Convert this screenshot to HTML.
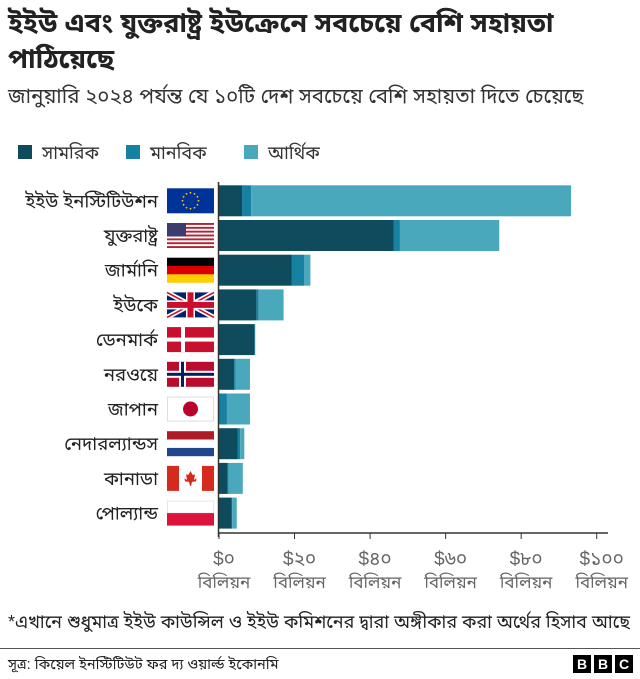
<!DOCTYPE html>
<html><head><meta charset="utf-8">
<style>
body{margin:0;background:#fff;width:640px;height:679px;overflow:hidden;font-family:"Liberation Sans","Noto Sans Bengali","Lohit Bengali",sans-serif;color:#222}
.t{position:absolute;left:8px;top:5px;font-size:27px;font-weight:bold;line-height:36px;width:625px}
.s{position:absolute;left:8px;top:85px;font-size:20.5px;color:#333}
</style></head><body>
<div class="t">ইইউ এবং যুক্তরাষ্ট্র ইউক্রেনে সবচেয়ে বেশি সহায়তা পাঠিয়েছে</div>
<div class="s">জানুয়ারি ২০২৪ পর্যন্ত যে ১০টি দেশ সবচেয়ে বেশি সহায়তা দিতে চেয়েছে</div>
<svg id="c" width="640" height="679" style="position:absolute;left:0;top:0"></svg>
<script>
const categories=["ইইউ ইনস্টিটিউশন","যুক্তরাষ্ট্র","জার্মানি","ইউকে","ডেনমার্ক","নরওয়ে","জাপান","নেদারল্যান্ডস","কানাডা","পোল্যান্ড"];
const flags=["eu","us","de","uk","dk","no","jp","nl","ca","pl"];
const military=[6.1,46.3,19.3,9.9,9.4,4.0,0.1,5.0,2.3,3.3];
const humanitarian=[2.4,1.6,3.3,0.6,0.1,0.4,2.0,0.6,0.2,0.2];
const financial=[84.7,26.3,1.6,6.6,0.1,3.8,6.1,1.1,3.8,1.2];
const ticks=[0,20,40,60,80,100];
const tickLabels=["$০","$২০","$৪০","$৬০","$৮০","$১০০"];
const seriesNames=["সামরিক","মানবিক","আর্থিক"];
const colors=["#0e4b5d","#1781a2","#4aa8bd"];
const svg=document.getElementById('c');const NS="http://www.w3.org/2000/svg";
function el(t,a,p){const e=document.createElementNS(NS,t);for(const k in a)e.setAttribute(k,a[k]);(p||svg).appendChild(e);return e;}
const x=v=>219+v*3.777;
const y=i=>185.3+i*34.7;
const BH=31;
const lx=[18,126,244];
seriesNames.forEach((n,i)=>{
 const r=el('rect',{x:lx[i],y:145,width:14,height:14,fill:colors[i]});
 
 
 const t=el('text',{x:lx[i]+24,y:159,'font-size':18,fill:'#333'});t.textContent=n;
 
 
});
categories.forEach((c,i)=>{
 let acc=0;
 [military,humanitarian,financial].forEach((s,j)=>{
  const r=el('rect',{x:x(acc),y:y(i),width:Math.max(0,x(acc+s[i])-x(acc)),height:BH,fill:colors[j]});
  
  
  acc+=s[i];
 });
 const t=el('text',{x:158,y:y(i)+22,'font-size':18.5,'text-anchor':'end',fill:'#222'});t.textContent=c;
 
 
 const g=el('g',{transform:`translate(167,${y(i)+3})`});
 
 
 drawFlag(g,flags[i]);
});
function drawFlag(g,f){
 const W=47,H=25;
 const R=(x1,y1,w,h,c)=>el('rect',{x:x1,y:y1,width:w,height:h,fill:c},g);
 if(f=='eu'){R(0,0,W,H,'#003399');for(let k=0;k<12;k++){const a=k*Math.PI/6;el('circle',{cx:23.5+8*Math.cos(a),cy:12.5+8*Math.sin(a),r:0.9,fill:'#fc0'},g);}}
 if(f=='us'){R(0,0,W,H,'#fff');for(let k=0;k<7;k++)R(0,k*3.85,W,1.9,'#b22234');R(0,0,19,13.5,'#3c3b6e');}
 if(f=='de'){R(0,0,W,8.3,'#000');R(0,8.3,W,8.4,'#d00');R(0,16.7,W,8.3,'#ffce00');}
 if(f=='uk'){R(0,0,W,H,'#012169');el('path',{d:`M0 0L${W} ${H}M${W} 0L0 ${H}`,stroke:'#fff','stroke-width':5},g);el('path',{d:`M0 0L${W} ${H}M${W} 0L0 ${H}`,stroke:'#c8102e','stroke-width':1.6},g);R(19,0,9,H,'#fff');R(0,8,W,9,'#fff');R(20.5,0,6,H,'#c8102e');R(0,9.5,W,6,'#c8102e');}
 if(f=='dk'){R(0,0,W,H,'#c8102e');R(14,0,4,H,'#fff');R(0,10.5,W,4,'#fff');}
 if(f=='no'){R(0,0,W,H,'#ba0c2f');R(12,0,7,H,'#fff');R(0,9,W,7,'#fff');R(14,0,3,H,'#00205b');R(0,11,W,3,'#00205b');}
 if(f=='jp'){R(0,0,W,H,'#fff');el('rect',{x:0.5,y:0.5,width:W-1,height:H-1,fill:'none',stroke:'#ddd'},g);el('circle',{cx:23.5,cy:12.5,r:7.5,fill:'#bc002d'},g);}
 if(f=='nl'){R(0,0,W,8.3,'#ae1c28');R(0,8.3,W,8.4,'#fff');R(0,16.7,W,8.3,'#21468b');}
 if(f=='ca'){R(0,0,W,H,'#fff');R(0,0,12,H,'#d52b1e');R(35,0,12,H,'#d52b1e');el('path',{d:'M23.5 5L25.5 9L28 8.5L27 14L29.5 12.5L29 15.5L25 16L24 20H23L22 16L18 15.5L17.5 12.5L20 14L19 8.5L21.5 9Z',fill:'#d52b1e'},g);}
 if(f=='pl'){R(0,0,W,12.5,'#fff');el('rect',{x:0.5,y:0.5,width:W-1,height:12,fill:'none',stroke:'#e5e5e5'},g);R(0,12.5,W,12.5,'#dc143c');}
}
const ax=el('line',{x1:218.5,y1:182,x2:218.5,y2:537,stroke:'#333','stroke-width':1.5});

const bx=el('line',{x1:218,y1:533,x2:608,y2:533,stroke:'#333','stroke-width':1.5});

ticks.forEach((v,i)=>{
 el('line',{x1:x(v),y1:533,x2:x(v),y2:539,stroke:'#333','stroke-width':1});
 const t=el('text',{x:x(v)+5,y:565,'font-size':19,'text-anchor':'middle',fill:'#666'});t.textContent=tickLabels[i];
 
 
 const u=el('text',{x:x(v)+5,y:588,'font-size':17,'text-anchor':'middle',fill:'#666'});u.textContent='বিলিয়ন';
 
 
});
const fn=el('text',{x:8,y:628,'font-size':18,fill:'#222',textLength:622,lengthAdjust:'spacingAndGlyphs'});fn.textContent='*এখানে শুধুমাত্র ইইউ কাউন্সিল ও ইইউ কমিশনের দ্বারা অঙ্গীকার করা অর্থের হিসাব আছে';

const fl=el('line',{x1:0,y1:648.5,x2:640,y2:648.5,stroke:'#555','stroke-width':1});

const src=el('text',{x:8,y:669,'font-size':14.5,fill:'#222'});src.textContent='সূত্র: কিয়েল ইনস্টিটিউট ফর দ্য ওয়ার্ল্ড ইকোনমি';

['B','B','C'].forEach((L,i)=>{
 const r=el('rect',{x:573+i*21,y:655,width:18,height:18,fill:'#000'});
 
 const t=el('text',{x:582+i*21,y:669,'font-size':14,'font-weight':'bold','text-anchor':'middle',fill:'#fff'});t.textContent=L;
 
});
</script>
</body></html>
